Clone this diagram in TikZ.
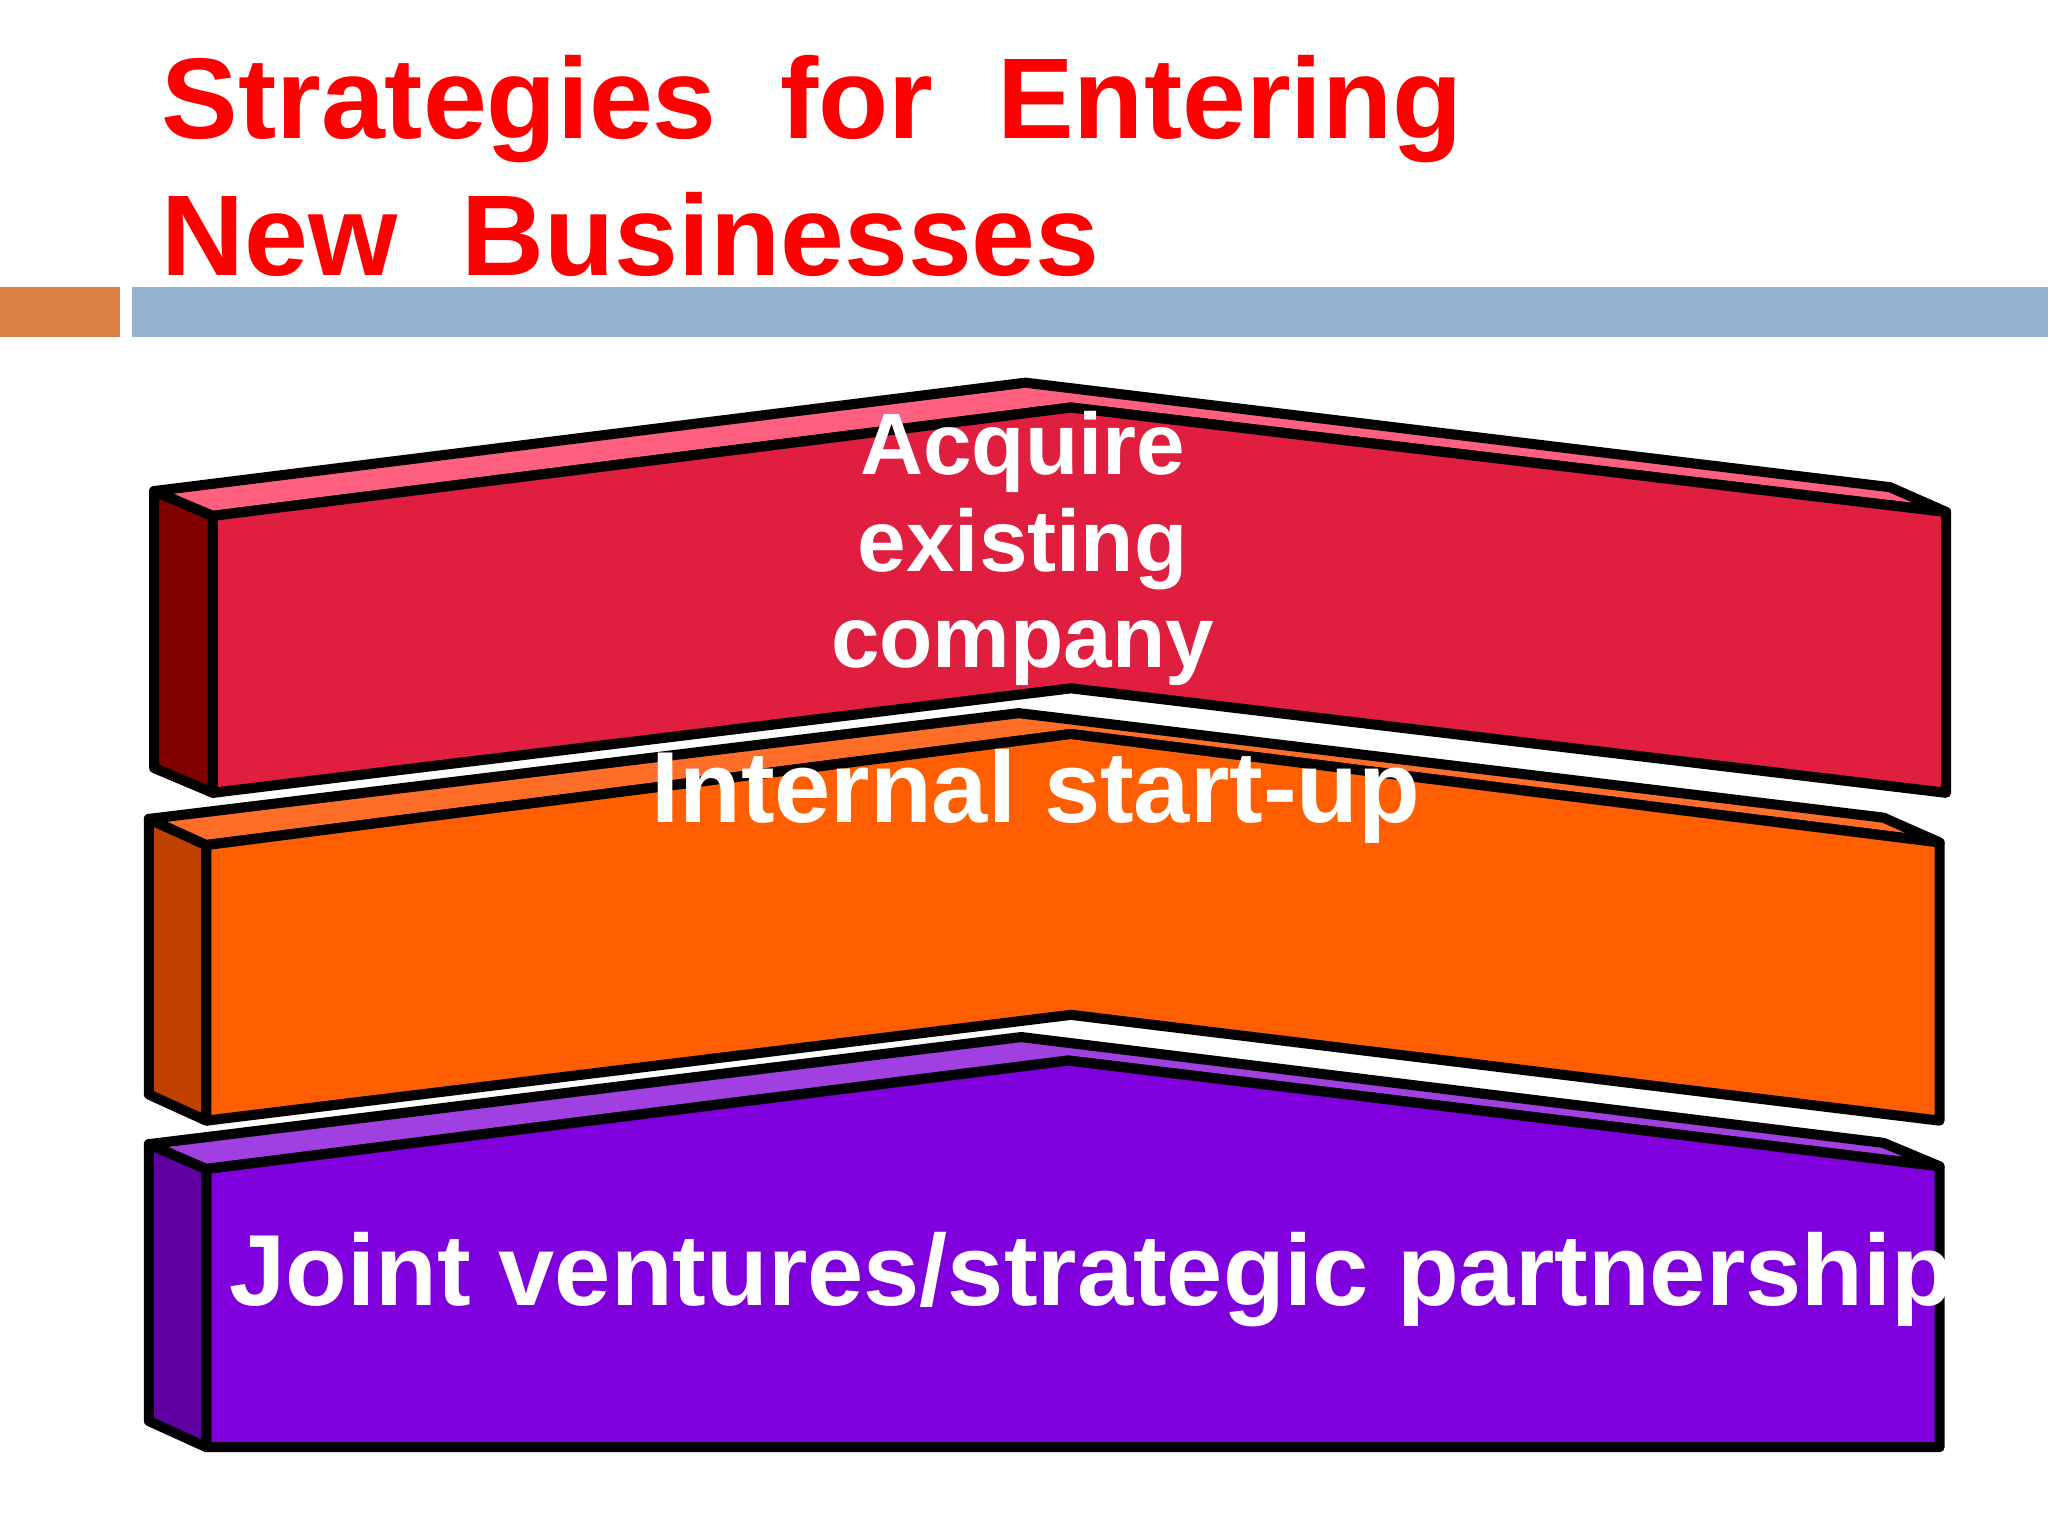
\documentclass[tikz,border=0pt]{standalone}
\usepackage{fontspec}
\setmainfont{Liberation Sans}
\begin{document}
\begin{tikzpicture}[x=0.01cm,y=-0.01cm,line join=round,
  face/.style={draw=black,line width=2.2pt},
  lbl/.style={text=white,font=\bfseries,align=center,inner sep=0pt}]
\useasboundingbox (0,0) rectangle (1568,1176);
\fill[white] (0,0) rectangle (1568,1176);
% title
\node[anchor=west,text=red,font=\fontsize{25}{30}\selectfont\bfseries,align=left,inner sep=0pt] (title) at (123,127) {Strategies\ \ for\ \ Entering\\New\ \ Businesses};
\fill[fill={rgb,255:red,221;green,128;blue,72}] (0,220) rectangle (92,258);
\fill[fill={rgb,255:red,150;green,180;blue,208}] (101,220) rectangle (1568,258);
% purple
\filldraw[face,fill={rgb,255:red,96;green,0;blue,160}] (114,876)--(158,895)--(158,1108)--(114,1088)--cycle;
\filldraw[face,fill={rgb,255:red,160;green,64;blue,224}] (114,876)--(782,794)--(1442,875)--(1485,893)--(818,812)--(158,895)--cycle;
\filldraw[face,fill={rgb,255:red,127;green,0;blue,221}] (158,895)--(818,812)--(1485,893)--(1485,1108)--(158,1108)--cycle;
% orange
\filldraw[face,fill={rgb,255:red,192;green,64;blue,0}] (114,627)--(158,647)--(158,858)--(114,838)--cycle;
\filldraw[face,fill={rgb,255:red,255;green,110;blue,40}] (114,627)--(780,546)--(1442,626)--(1485,645)--(820,562)--(158,647)--cycle;
\filldraw[face,fill={rgb,255:red,255;green,95;blue,0}] (158,647)--(820,562)--(1485,645)--(1485,858)--(820,777)--(158,858)--cycle;
% red
\filldraw[face,fill={rgb,255:red,128;green,0;blue,0}] (118,376)--(163,395)--(163,607)--(118,588)--cycle;
\filldraw[face,fill={rgb,255:red,255;green,96;blue,128}] (118,376)--(785,293)--(1447,373)--(1490,392)--(820,312)--(163,395)--cycle;
\filldraw[face,fill={rgb,255:red,224;green,30;blue,64}] (163,395)--(820,312)--(1490,392)--(1490,607)--(820,527)--(163,607)--cycle;
% labels
\node[lbl,font=\fontsize{19}{21}\selectfont\bfseries] (acq) at (783,420) {Acquire\\existing\\company};
\node[lbl,font=\fontsize{22}{26}\selectfont\bfseries] (int) at (793,610) {Internal start-up};
\node[lbl,font=\fontsize{22}{26}\selectfont\bfseries] (jv) at (857,980) {Joint ventures/strategic partnerships};
\end{tikzpicture}
\end{document}
